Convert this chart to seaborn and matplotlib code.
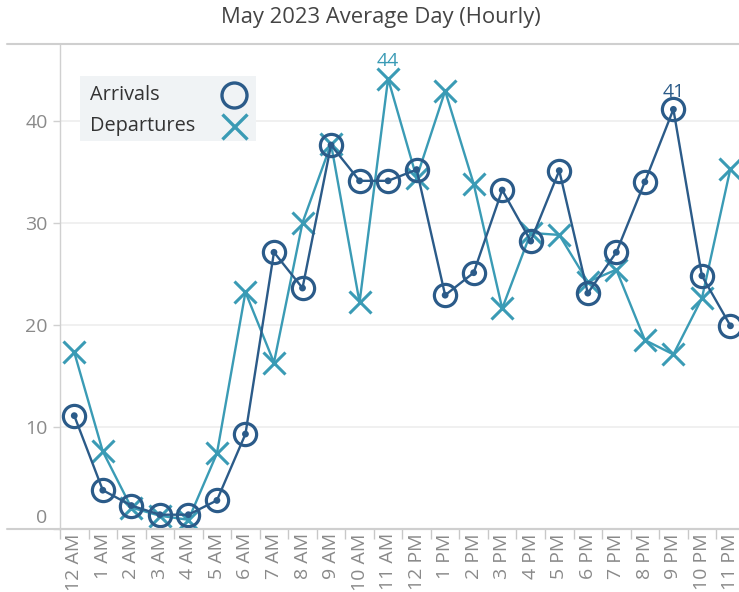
import numpy as np
import pandas as pd
import matplotlib
matplotlib.use("Agg")
import matplotlib.pyplot as plt
import matplotlib.transforms as mtransforms
from matplotlib.lines import Line2D
from matplotlib.patches import Rectangle
import seaborn as sns

# hourly averages, May 2023
hours = ["12 AM", "1 AM", "2 AM", "3 AM", "4 AM", "5 AM", "6 AM", "7 AM", "8 AM",
         "9 AM", "10 AM", "11 AM", "12 PM", "1 PM", "2 PM", "3 PM", "4 PM", "5 PM",
         "6 PM", "7 PM", "8 PM", "9 PM", "10 PM", "11 PM"]
arrivals = [11.1, 3.8, 2.3, 1.4, 1.4, 2.8, 9.3, 27.1, 23.6, 37.6, 34.1, 34.1,
            35.2, 22.9, 25.1, 33.2, 28.2, 35.1, 23.1, 27.1, 34.0, 41.1, 24.8, 19.9]
departures = [17.3, 7.6, 2.1, 1.3, 0.9, 7.4, 23.2, 16.3, 30.0, 37.7, 22.2, 44.1,
              34.4, 42.9, 33.8, 21.6, 29.0, 28.8, 24.2, 25.4, 18.5, 17.1, 22.6, 35.3]

arr_color = "#2b5b89"
dep_color = "#3a9bb5"
grey = "#8a8a8a"

df = pd.DataFrame({"idx": np.arange(len(hours)), "hour": hours,
                   "Arrivals": arrivals, "Departures": departures})

sns.set_theme(style="white")
plt.rcParams["font.family"] = ["Open Sans", "DejaVu Sans"]

fig = plt.figure(figsize=(7.39, 5.92), dpi=100)
ax = fig.add_axes([60 / 739, 1 - 529 / 592, 679 / 739, 485 / 592])

# departures underneath, arrivals on top
sns.lineplot(data=df, x="idx", y="Departures", ax=ax, color=dep_color, lw=1.7,
             marker="x", markersize=16, markeredgecolor=dep_color,
             markeredgewidth=2.2, zorder=3)
sns.lineplot(data=df, x="idx", y="Arrivals", ax=ax, color=arr_color, lw=1.7,
             marker="o", markersize=16, markerfacecolor="none",
             markeredgecolor=arr_color, markeredgewidth=2.3, zorder=4)
sns.scatterplot(data=df, x="idx", y="Arrivals", ax=ax, color=arr_color, s=24,
                edgecolor="none", zorder=5)

# peak labels
i_dep = int(np.argmax(departures))
i_arr = int(np.argmax(arrivals))
ax.annotate(f"{round(departures[i_dep])}", (i_dep, departures[i_dep]), xytext=(0, 6),
            textcoords="offset points", ha="center", va="bottom", color=dep_color, fontsize=14)
ax.annotate(f"{round(arrivals[i_arr])}", (i_arr, arrivals[i_arr]), xytext=(0, 6),
            textcoords="offset points", ha="center", va="bottom", color=arr_color, fontsize=14)

ax.set_xlabel("")
ax.set_ylabel("")

ax.set_xticks(df["idx"])
ax.set_xticklabels(hours, rotation=90, color=grey, fontsize=14)
ax.set_xticks(np.arange(-0.5, 24, 1), minor=True)
ax.tick_params(axis="x", which="major", length=0, pad=3)
ax.tick_params(axis="x", which="minor", length=7, width=1, color="#c8c8c8", bottom=True)

ax.set_yticks([0, 10, 20, 30, 40])
ax.tick_params(axis="y", length=5, width=1, color="#d0d0d0", labelcolor=grey,
               labelsize=14, pad=4, left=True)
lab0 = ax.get_yticklabels()[0]
lab0.set_transform(lab0.get_transform() + mtransforms.ScaledTranslation(0, 13 / 100, fig.dpi_scale_trans))

# limits after the ticks, so the minor ticks don't widen the view
ax.set_xlim(-0.5, 23.3)
ax.set_ylim(0, 47.5)

for y in [10, 20, 30, 40]:
    ax.axhline(y, color="#eeeeee", lw=1.2, zorder=0)

for s in ["top", "right"]:
    ax.spines[s].set_visible(False)
ax.spines["left"].set_color("#d0d0d0")
ax.spines["bottom"].set_color("#c8c8c8")
ax.spines["left"].set_linewidth(1)
ax.spines["bottom"].set_linewidth(1.5)

# header / baseline rules that reach past the y axis
for yf in [1 - 44 / 592, 1 - 529 / 592]:
    fig.add_artist(Line2D([7 / 739, 1], [yf, yf], transform=fig.transFigure,
                          color="#cfcfcf", lw=1.5))

fig.text(381 / 739, 1 - 17 / 592, "May 2023 Average Day (Hourly)", ha="center", va="center",
         fontsize=15.8, color="#444444")

# legend panel, text on the left and marker on the right
W, H = 739, 592
fig.add_artist(Rectangle((80 / W, 1 - 141 / H), 176 / W, 65 / H, transform=fig.transFigure,
                         facecolor="#f0f3f5", edgecolor="none", zorder=6))
for name, yc, mk, col in [("Arrivals", 95, "o", arr_color), ("Departures", 126, "x", dep_color)]:
    fig.text(90 / W, 1 - yc / H, name, ha="left", va="center", fontsize=14.3,
             fontweight="medium", color="#333333", zorder=7)
    fig.add_artist(Line2D([234 / W], [1 - yc / H], transform=fig.transFigure, ls="none",
                          marker=mk, markersize=18, markerfacecolor="none",
                          markeredgecolor=col, markeredgewidth=2.4, zorder=7))

fig.savefig("out.png", dpi=100)
